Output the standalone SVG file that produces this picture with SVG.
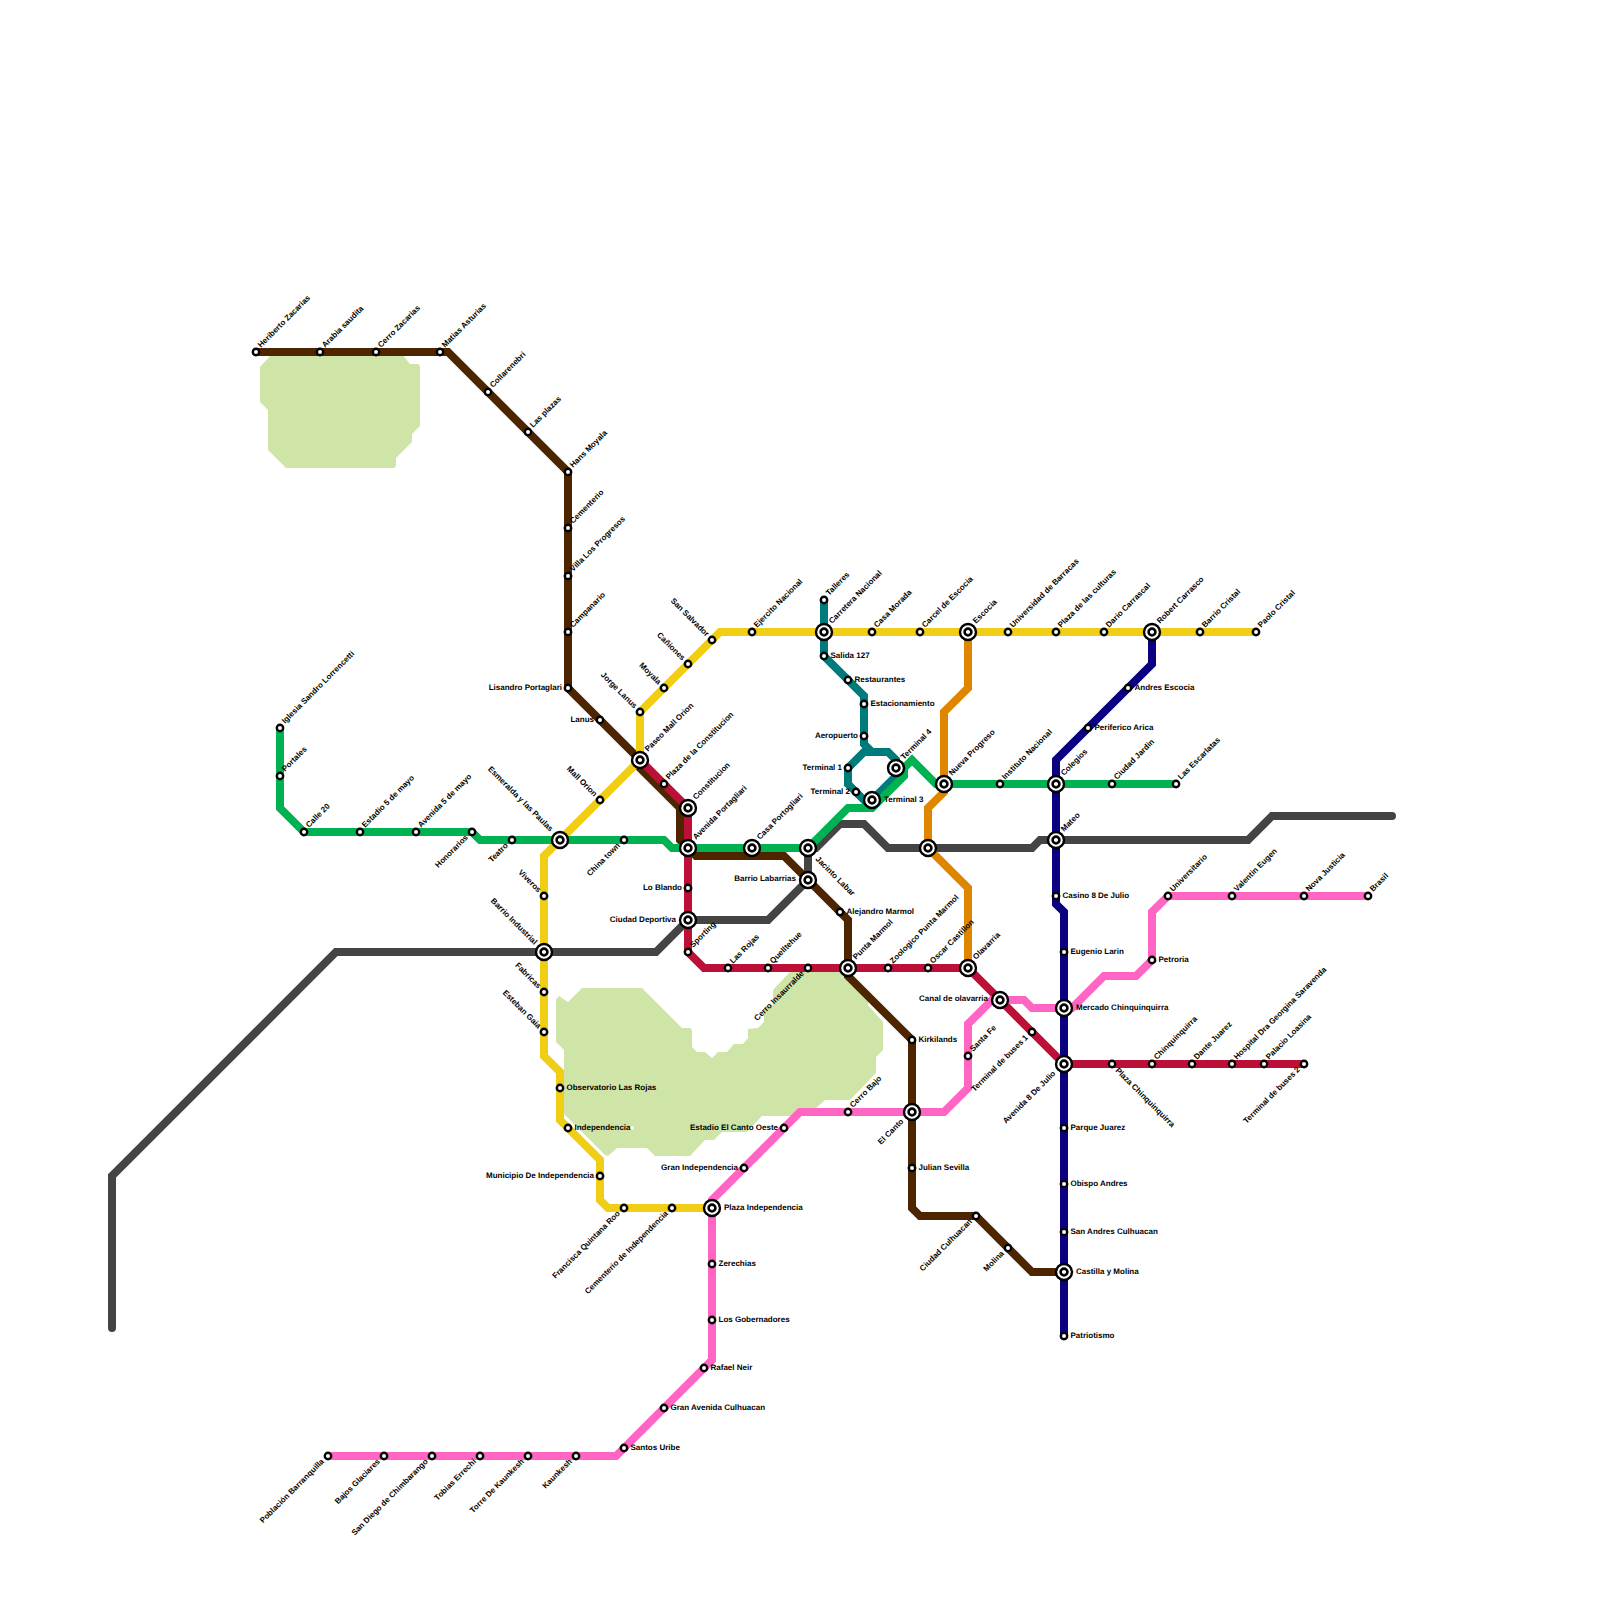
<svg xmlns="http://www.w3.org/2000/svg" width="1600" height="1600" viewBox="0 0 1600 1600">
<style>
.l{fill:none;stroke-width:8;stroke-linejoin:miter;stroke-linecap:round}
.park{fill:#cfe4a7}
text{font-family:"Liberation Sans",Arial,sans-serif;font-size:8px;font-weight:bold;fill:#000;text-rendering:geometricPrecision}
.s{fill:#fff;stroke:#000;stroke-width:2.4}
.o{fill:#fff;stroke:#000;stroke-width:2.4}
.i{fill:#fff;stroke:#000;stroke-width:2.6}
.e{text-anchor:end}
</style>
<defs>
<g id="st"><circle class="s" r="3.2"/></g>
<g id="ic"><circle class="o" r="8"/><circle class="i" r="3.4"/></g>
</defs>
<g id="parks">
<polygon class="park" points="272,354 402,354 410,364 418,364 420,366 420,426 412,434 412,442 396,458 396,466 394,468 286,468 268,450 268,410 260,402 260,367"/>
<polygon class="park" points="557,998 559,996 568,1002 582,988 642,988 682,1028 690,1028 692,1030 692,1047 697,1052 705,1052 712,1058 718,1052 727,1052 734,1044 743,1044 748,1038 748,1029 758,1028 764,1022 764,1007 773,1005 773,990 790,972 848,972 868,997 868,1005 883,1022 883,1050 876,1057 876,1073 850,1100 825,1100 816,1108 807,1116 762,1116 747,1132 722,1132 714,1140 705,1140 690,1156 655,1156 647,1148 617,1148 608,1156 605,1155 564,1114 564,1050 556,1042 556,1000"/>
<circle cx="632" cy="1128" r="1.8" fill="#fff"/>
</g>
<g id="connectors">
<polyline class="l" stroke="#444444" points="112,1328 112,1176 336,952 656,952 688,920 768,920 808,880 808,848 816,848 840,824 864,824 888,848 1032,848 1040,840 1248,840 1272,816 1392,816"/>
<polyline class="l" stroke="#007b7b" points="824,600 824,656 864,696 864,744 872,752 888,752 896,760 896,776 872,800 864,800 848,784 848,768 864,752 872,752"/>
<polyline class="l" stroke="#4d2600" points="256,352 448,352 568,472 568,688 640,760 640,768 680,808 680,840 688,848 696,856 784,856 848,920 848,976 912,1040 912,1208 920,1216 976,1216 1032,1272 1064,1272"/>
<polyline class="l" stroke="#bd1038" points="640,760 688,808 688,952 704,968 968,968 1064,1064 1304,1064"/>
<polyline class="l" stroke="#f0ce15" points="1256,632 720,632 640,712 640,760 544,856 544,1056 560,1072 560,1120 600,1160 600,1200 608,1208 712,1208"/>
<polyline class="l" stroke="#df8600" points="968,632 968,688 944,712 944,792 928,808 928,848 968,888 968,968"/>
<polyline class="l" stroke="#00b251" points="280,728 280,808 304,832 472,832 480,840 664,840 672,848 808,848 848,808 872,808 904,776 904,768 912,760 936,784 1176,784"/>
<polyline class="l" stroke="#0a0080" points="1152,632 1152,664 1056,760 1056,904 1064,912 1064,1336"/>
<polyline class="l" stroke="#ff66c4" points="328,1456 616,1456 712,1360 712,1200 800,1112 944,1112 968,1088 968,1024 992,1000 1024,1000 1032,1008 1072,1008 1104,976 1136,976 1152,960 1152,912 1168,896 1368,896"/>
</g>
<g id="n001" transform="translate(256 352)"><use href="#st"/><text transform="translate(5 -4) rotate(-45)">Heriberto Zacarias</text></g>
<g id="n002" transform="translate(320 352)"><use href="#st"/><text transform="translate(5 -4) rotate(-45)">Arabia saudita</text></g>
<g id="n003" transform="translate(376 352)"><use href="#st"/><text transform="translate(5 -4) rotate(-45)">Cerro Zacarias</text></g>
<g id="n004" transform="translate(440 352)"><use href="#st"/><text transform="translate(5 -4) rotate(-45)">Matias Asturias</text></g>
<g id="n005" transform="translate(488 392)"><use href="#st"/><text transform="translate(5 -4) rotate(-45)">Collarenebri</text></g>
<g id="n006" transform="translate(528 432)"><use href="#st"/><text transform="translate(5 -4) rotate(-45)">Las plazas</text></g>
<g id="n007" transform="translate(568 472)"><use href="#st"/><text transform="translate(5 -4) rotate(-45)">Hans Moyala</text></g>
<g id="n008" transform="translate(568 528)"><use href="#st"/><text transform="translate(5 -4) rotate(-45)">Cementerio</text></g>
<g id="n009" transform="translate(568 576)"><use href="#st"/><text transform="translate(5 -4) rotate(-45)">Villa Los Progresos</text></g>
<g id="n010" transform="translate(568 632)"><use href="#st"/><text transform="translate(5 -4) rotate(-45)">Campanario</text></g>
<g id="n011" transform="translate(568 688)"><use href="#st"/><text class="e" x="-6" y="2">Lisandro Portaglari</text></g>
<g id="n012" transform="translate(600 720)"><use href="#st"/><text class="e" x="-6" y="2">Lanus</text></g>
<g id="n013" transform="translate(640 760)"><use href="#ic"/><text transform="translate(8 -8) rotate(-45)">Paseo Mall Orion</text></g>
<g id="n014" transform="translate(664 784)"><use href="#st"/><text transform="translate(5 -4) rotate(-45)">Plaza de la Constitucion</text></g>
<g id="n015" transform="translate(688 808)"><use href="#ic"/><text transform="translate(8 -8) rotate(-45)">Constitucion</text></g>
<g id="n016" transform="translate(688 848)"><use href="#ic"/><text transform="translate(8 -8) rotate(-45)">Avenida Portagliari</text></g>
<g id="n017" transform="translate(752 848)"><use href="#ic"/><text transform="translate(8 -8) rotate(-45)">Casa Portogliari</text></g>
<g id="n018" transform="translate(808 848)"><use href="#ic"/><text transform="translate(7 11.500) rotate(45)">Jacinto Labar</text></g>
<g id="n019" transform="translate(808 880)"><use href="#ic"/><text class="e" x="-12" y="1">Barrio Labarrias</text></g>
<g id="n020" transform="translate(840 912)"><use href="#st"/><text x="6.500" y="2">Alejandro Marmol</text></g>
<g id="n021" transform="translate(848 968)"><use href="#ic"/><text transform="translate(8 -8) rotate(-45)">Punta Marmol</text></g>
<g id="n022" transform="translate(912 1040)"><use href="#st"/><text x="6.500" y="2">Kirkilands</text></g>
<g id="n023" transform="translate(912 1112)"><use href="#ic"/><text class="e" transform="translate(-8 10) rotate(-45)">El Canto</text></g>
<g id="n024" transform="translate(912 1168)"><use href="#st"/><text x="6.500" y="2">Julian Sevilla</text></g>
<g id="n025" transform="translate(976 1216)"><use href="#st"/><text class="e" transform="translate(-3.500 6) rotate(-45)">Ciudad Culhuacan</text></g>
<g id="n026" transform="translate(1008 1248)"><use href="#st"/><text class="e" transform="translate(-3.500 6) rotate(-45)">Molina</text></g>
<g id="n027" transform="translate(1064 1272)"><use href="#ic"/><text x="12" y="2">Castilla y Molina</text></g>
<g id="n028" transform="translate(1064 1336)"><use href="#st"/><text x="6.500" y="2">Patriotismo</text></g>
<g id="n029" transform="translate(688 888)"><use href="#st"/><text class="e" x="-6" y="2">Lo Blando</text></g>
<g id="n030" transform="translate(688 920)"><use href="#ic"/><text class="e" x="-12" y="2">Ciudad Deportiva</text></g>
<g id="n031" transform="translate(688 952)"><use href="#st"/><text transform="translate(5 -4) rotate(-45)">Sporting</text></g>
<g id="n032" transform="translate(728 968)"><use href="#st"/><text transform="translate(5 -4) rotate(-45)">Las Rojas</text></g>
<g id="n033" transform="translate(768 968)"><use href="#st"/><text transform="translate(5 -4) rotate(-45)">Quelltehue</text></g>
<g id="n034" transform="translate(808 968)"><use href="#st"/><text class="e" transform="translate(-3.500 6) rotate(-45)">Cerro Insaurralde</text></g>
<g id="n035" transform="translate(888 968)"><use href="#st"/><text transform="translate(5 -4) rotate(-45)">Zoologico Punta Marmol</text></g>
<g id="n036" transform="translate(928 968)"><use href="#st"/><text transform="translate(5 -4) rotate(-45)">Oscar Castillon</text></g>
<g id="n037" transform="translate(968 968)"><use href="#ic"/><text transform="translate(8 -8) rotate(-45)">Olavarria</text></g>
<g id="n038" transform="translate(1000 1000)"><use href="#ic"/><text class="e" x="-12" y="1">Canal de olavarria</text></g>
<g id="n039" transform="translate(1032 1032)"><use href="#st"/><text class="e" transform="translate(-3.500 6) rotate(-45)">Terminal de buses 1</text></g>
<g id="n040" transform="translate(1064 1064)"><use href="#ic"/><text class="e" transform="translate(-8 10) rotate(-45)">Avenida 8 De Julio</text></g>
<g id="n041" transform="translate(1112 1064)"><use href="#st"/><text transform="translate(3 7) rotate(45)">Plaza Chinquinquirra</text></g>
<g id="n042" transform="translate(1152 1064)"><use href="#st"/><text transform="translate(5 -4) rotate(-45)">Chinquinquirra</text></g>
<g id="n043" transform="translate(1192 1064)"><use href="#st"/><text transform="translate(5 -4) rotate(-45)">Dante Juarez</text></g>
<g id="n044" transform="translate(1232 1064)"><use href="#st"/><text transform="translate(5 -4) rotate(-45)">Hospital Dra Georgina Saravenda</text></g>
<g id="n045" transform="translate(1264 1064)"><use href="#st"/><text transform="translate(5 -4) rotate(-45)">Palacio Loasina</text></g>
<g id="n046" transform="translate(1304 1064)"><use href="#st"/><text class="e" transform="translate(-3.500 6) rotate(-45)">Terminal de buses 2</text></g>
<g id="n047" transform="translate(640 712)"><use href="#st"/><text class="e" transform="translate(-6 -3) rotate(45)">Jorge Lanus</text></g>
<g id="n048" transform="translate(664 688)"><use href="#st"/><text class="e" transform="translate(-6 -3) rotate(45)">Moyala</text></g>
<g id="n049" transform="translate(688 664)"><use href="#st"/><text class="e" transform="translate(-6 -3) rotate(45)">Cañiones</text></g>
<g id="n050" transform="translate(712 640)"><use href="#st"/><text class="e" transform="translate(-6 -3) rotate(45)">San Salvador</text></g>
<g id="n051" transform="translate(752 632)"><use href="#st"/><text transform="translate(5 -4) rotate(-45)">Ejercito Nacional</text></g>
<g id="n052" transform="translate(824 632)"><use href="#ic"/><text transform="translate(8 -8) rotate(-45)">Carretera Nacional</text></g>
<g id="n053" transform="translate(872 632)"><use href="#st"/><text transform="translate(5 -4) rotate(-45)">Casa Morada</text></g>
<g id="n054" transform="translate(920 632)"><use href="#st"/><text transform="translate(5 -4) rotate(-45)">Carcel de Escocia</text></g>
<g id="n055" transform="translate(968 632)"><use href="#ic"/><text transform="translate(8 -8) rotate(-45)">Escocia</text></g>
<g id="n056" transform="translate(1008 632)"><use href="#st"/><text transform="translate(5 -4) rotate(-45)">Universidad de Barracas</text></g>
<g id="n057" transform="translate(1056 632)"><use href="#st"/><text transform="translate(5 -4) rotate(-45)">Plaza de las culturas</text></g>
<g id="n058" transform="translate(1104 632)"><use href="#st"/><text transform="translate(5 -4) rotate(-45)">Dario Carrascal</text></g>
<g id="n059" transform="translate(1152 632)"><use href="#ic"/><text transform="translate(8 -8) rotate(-45)">Robert Carrasco</text></g>
<g id="n060" transform="translate(1200 632)"><use href="#st"/><text transform="translate(5 -4) rotate(-45)">Barrio Cristal</text></g>
<g id="n061" transform="translate(1256 632)"><use href="#st"/><text transform="translate(5 -4) rotate(-45)">Paolo Cristal</text></g>
<g id="n062" transform="translate(600 800)"><use href="#st"/><text class="e" transform="translate(-6 -3) rotate(45)">Mall Orion</text></g>
<g id="n063" transform="translate(560 840)"><use href="#ic"/><text class="e" transform="translate(-10 -8) rotate(45)">Esmeralda y las Paulas</text></g>
<g id="n064" transform="translate(544 896)"><use href="#st"/><text class="e" transform="translate(-6 -3) rotate(45)">Viveros</text></g>
<g id="n065" transform="translate(544 952)"><use href="#ic"/><text class="e" transform="translate(-10 -7) rotate(45)">Barrio Industrial</text></g>
<g id="n066" transform="translate(544 992)"><use href="#st"/><text class="e" transform="translate(-6 -3) rotate(45)">Fabricas</text></g>
<g id="n067" transform="translate(544 1032)"><use href="#st"/><text class="e" transform="translate(-6 -3) rotate(45)">Esteban Gaia</text></g>
<g id="n068" transform="translate(560 1088)"><use href="#st"/><text x="6.500" y="2">Observatorio Las Rojas</text></g>
<g id="n069" transform="translate(568 1128)"><use href="#st"/><text x="6.500" y="2">Independencia</text></g>
<g id="n070" transform="translate(600 1176)"><use href="#st"/><text class="e" x="-6" y="2">Municipio De Independencia</text></g>
<g id="n071" transform="translate(624 1208)"><use href="#st"/><text class="e" transform="translate(-3.500 6) rotate(-45)">Francisca Quintana Roo</text></g>
<g id="n072" transform="translate(672 1208)"><use href="#st"/><text class="e" transform="translate(-3.500 6) rotate(-45)">Cementerio de Independencia</text></g>
<g id="n073" transform="translate(712 1208)"><use href="#ic"/><text x="12" y="2">Plaza Independencia</text></g>
<g id="n074" transform="translate(280 728)"><use href="#st"/><text transform="translate(5 -4) rotate(-45)">Iglesia Sandro Lorrencetti</text></g>
<g id="n075" transform="translate(280 776)"><use href="#st"/><text transform="translate(5 -4) rotate(-45)">Portales</text></g>
<g id="n076" transform="translate(304 832)"><use href="#st"/><text transform="translate(5 -4) rotate(-45)">Calle 20</text></g>
<g id="n077" transform="translate(360 832)"><use href="#st"/><text transform="translate(5 -4) rotate(-45)">Estadio 5 de mayo</text></g>
<g id="n078" transform="translate(416 832)"><use href="#st"/><text transform="translate(5 -4) rotate(-45)">Avenida 5 de mayo</text></g>
<g id="n079" transform="translate(472 832)"><use href="#st"/><text class="e" transform="translate(-3.500 6) rotate(-45)">Honorarios</text></g>
<g id="n080" transform="translate(512 840)"><use href="#st"/><text class="e" transform="translate(-3.500 6) rotate(-45)">Teatro</text></g>
<g id="n081" transform="translate(624 840)"><use href="#st"/><text class="e" transform="translate(-3.500 6) rotate(-45)">China town</text></g>
<g id="n082" transform="translate(824 600)"><use href="#st"/><text transform="translate(5 -4) rotate(-45)">Talleres</text></g>
<g id="n083" transform="translate(824 656)"><use href="#st"/><text x="6.500" y="2">Salida 127</text></g>
<g id="n084" transform="translate(848 680)"><use href="#st"/><text x="6.500" y="2">Restaurantes</text></g>
<g id="n085" transform="translate(864 704)"><use href="#st"/><text x="6.500" y="2">Estacionamiento</text></g>
<g id="n086" transform="translate(864 736)"><use href="#st"/><text class="e" x="-6" y="2">Aeropuerto</text></g>
<g id="n087" transform="translate(848 768)"><use href="#st"/><text class="e" x="-6" y="2">Terminal 1</text></g>
<g id="n088" transform="translate(856 792)"><use href="#st"/><text class="e" x="-6" y="2">Terminal 2</text></g>
<g id="n089" transform="translate(872 800)"><use href="#ic"/><text x="12" y="2">Terminal 3</text></g>
<g id="n090" transform="translate(896 768)"><use href="#ic"/><text transform="translate(8 -8) rotate(-45)">Terminal 4</text></g>
<g id="n091" transform="translate(928 848)"><use href="#ic"/></g>
<g id="n092" transform="translate(944 784)"><use href="#ic"/><text transform="translate(8 -8) rotate(-45)">Nueva Progreso</text></g>
<g id="n093" transform="translate(1000 784)"><use href="#st"/><text transform="translate(5 -4) rotate(-45)">Instituto Nacional</text></g>
<g id="n094" transform="translate(1056 784)"><use href="#ic"/><text transform="translate(8 -8) rotate(-45)">Colegios</text></g>
<g id="n095" transform="translate(1112 784)"><use href="#st"/><text transform="translate(5 -4) rotate(-45)">Ciudad Jardin</text></g>
<g id="n096" transform="translate(1176 784)"><use href="#st"/><text transform="translate(5 -4) rotate(-45)">Las Escarlatas</text></g>
<g id="n097" transform="translate(1128 688)"><use href="#st"/><text x="6.500" y="2">Andres Escocia</text></g>
<g id="n098" transform="translate(1088 728)"><use href="#st"/><text x="6.500" y="2">Periferico Arica</text></g>
<g id="n099" transform="translate(1056 840)"><use href="#ic"/><text transform="translate(8 -8) rotate(-45)">Mateo</text></g>
<g id="n100" transform="translate(1056 896)"><use href="#st"/><text x="6.500" y="2">Casino 8 De Julio</text></g>
<g id="n101" transform="translate(1064 952)"><use href="#st"/><text x="6.500" y="2">Eugenio Larin</text></g>
<g id="n102" transform="translate(1064 1008)"><use href="#ic"/><text x="12" y="2">Mercado Chinquinquirra</text></g>
<g id="n103" transform="translate(1064 1128)"><use href="#st"/><text x="6.500" y="2">Parque Juarez</text></g>
<g id="n104" transform="translate(1064 1184)"><use href="#st"/><text x="6.500" y="2">Obispo Andres</text></g>
<g id="n105" transform="translate(1064 1232)"><use href="#st"/><text x="6.500" y="2">San Andres Culhuacan</text></g>
<g id="n106" transform="translate(1152 960)"><use href="#st"/><text x="6.500" y="2">Petroria</text></g>
<g id="n107" transform="translate(1168 896)"><use href="#st"/><text transform="translate(5 -4) rotate(-45)">Universitario</text></g>
<g id="n108" transform="translate(1232 896)"><use href="#st"/><text transform="translate(5 -4) rotate(-45)">Valentin Eugen</text></g>
<g id="n109" transform="translate(1304 896)"><use href="#st"/><text transform="translate(5 -4) rotate(-45)">Nova Justicia</text></g>
<g id="n110" transform="translate(1368 896)"><use href="#st"/><text transform="translate(5 -4) rotate(-45)">Brasil</text></g>
<g id="n111" transform="translate(968 1056)"><use href="#st"/><text transform="translate(5 -4) rotate(-45)">Santa Fe</text></g>
<g id="n112" transform="translate(848 1112)"><use href="#st"/><text transform="translate(5 -4) rotate(-45)">Cerro Bajo</text></g>
<g id="n113" transform="translate(784 1128)"><use href="#st"/><text class="e" x="-6" y="2">Estadio El Canto Oeste</text></g>
<g id="n114" transform="translate(744 1168)"><use href="#st"/><text class="e" x="-6" y="2">Gran Independencia</text></g>
<g id="n115" transform="translate(712 1264)"><use href="#st"/><text x="6.500" y="2">Zerechias</text></g>
<g id="n116" transform="translate(712 1320)"><use href="#st"/><text x="6.500" y="2">Los Gobernadores</text></g>
<g id="n117" transform="translate(704 1368)"><use href="#st"/><text x="6.500" y="2">Rafael Neir</text></g>
<g id="n118" transform="translate(664 1408)"><use href="#st"/><text x="6.500" y="2">Gran Avenida Culhuacan</text></g>
<g id="n119" transform="translate(624 1448)"><use href="#st"/><text x="6.500" y="2">Santos Uribe</text></g>
<g id="n120" transform="translate(328 1456)"><use href="#st"/><text class="e" transform="translate(-3.500 6) rotate(-45)">Población Barranquilla</text></g>
<g id="n121" transform="translate(384 1456)"><use href="#st"/><text class="e" transform="translate(-3.500 6) rotate(-45)">Bajos Glaciares</text></g>
<g id="n122" transform="translate(432 1456)"><use href="#st"/><text class="e" transform="translate(-3.500 6) rotate(-45)">San Diego de Chimbarango</text></g>
<g id="n123" transform="translate(480 1456)"><use href="#st"/><text class="e" transform="translate(-3.500 6) rotate(-45)">Tobias Errechi</text></g>
<g id="n124" transform="translate(528 1456)"><use href="#st"/><text class="e" transform="translate(-3.500 6) rotate(-45)">Torre De Kaunkesh</text></g>
<g id="n125" transform="translate(576 1456)"><use href="#st"/><text class="e" transform="translate(-3.500 6) rotate(-45)">Kaunkesh</text></g>
</svg>
